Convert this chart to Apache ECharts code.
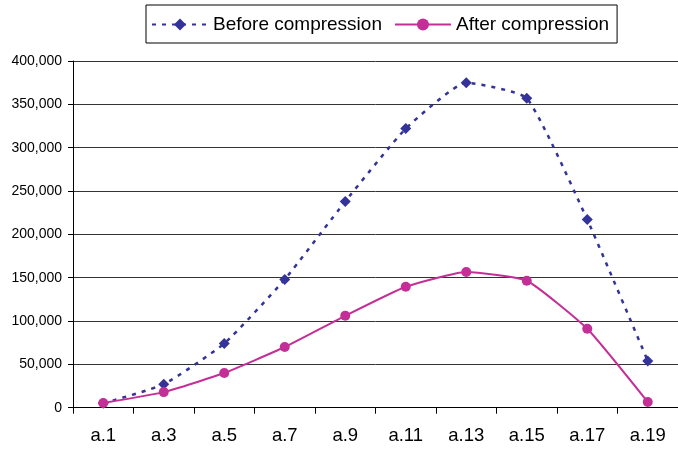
<!DOCTYPE html>
<html>
<head>
<meta charset="utf-8">
<script src="https://cdn.jsdelivr.net/npm/echarts@6/dist/echarts.min.js"></script>
<style>
html,body{margin:0;padding:0;background:#fff;}
#chart{width:678px;height:450px;}
</style>
</head>
<body>
<div id="chart"></div>
<script>
var categories = ['a.1','a.3','a.5','a.7','a.9','a.11','a.13','a.15','a.17','a.19'];
var beforeValues = [5000, 27000, 74000, 148000, 238000, 322000, 375000, 357000, 217000, 54000];
var afterValues = [5500, 18000, 40000, 70000, 106000, 139500, 156500, 146500, 91000, 6500];
var yMin = 0, yMax = 400000, yInterval = 50000;

var chart = echarts.init(document.getElementById('chart'), null, {renderer:'canvas'});
chart.setOption({
  animation: false,
  backgroundColor: '#fff',
  textStyle: {fontFamily: 'Liberation Sans, Arial, sans-serif', color: '#000'},
  legend: {
    left: 146, top: 5,
    padding: [10, 8, 9, 5],
    borderColor: '#000', borderWidth: 1,
    itemWidth: 56, itemHeight: 15, itemGap: 12,
    textStyle: {fontSize: 19, color: '#000', fontFamily: 'Liberation Sans, Arial, sans-serif'},
    data: ['Before compression', 'After compression']
  },
  grid: {left: 73, right: -6, top: 61, bottom: 42.3, containLabel: false},
  xAxis: {
    type: 'category',
    data: categories,
    boundaryGap: true,
    axisLine: {lineStyle: {color: '#000', width: 1}},
    axisTick: {show: true, length: 6, inside: false, lineStyle: {color: '#000'}},
    axisLabel: {fontSize: 18.5, color: '#000', margin: 19, interval: 0}
  },
  yAxis: {
    type: 'value',
    min: yMin, max: yMax, interval: yInterval,
    axisLine: {show: true, lineStyle: {color: '#000', width: 1}},
    axisTick: {show: true, length: 5, lineStyle: {color: '#000'}},
    axisLabel: {fontSize: 14, color: '#000', margin: 11,
      formatter: function(v){ return v.toLocaleString('en-US'); }},
    splitLine: {show: true, lineStyle: {color: '#333', width: 1}}
  },
  series: [
    {
      name: 'Before compression',
      type: 'line',
      data: beforeValues,
      smooth: 0.15,
      symbol: 'diamond',
      symbolSize: 11,
      itemStyle: {color: '#333399'},
      lineStyle: {color: '#333399', width: 2.5, type: [4, 6]},
      z: 2
    },
    {
      name: 'After compression',
      type: 'line',
      data: afterValues,
      smooth: 0.15,
      symbol: 'circle',
      symbolSize: 10,
      itemStyle: {color: '#C42F97'},
      lineStyle: {color: '#C42F97', width: 2, type: 'solid'},
      z: 3
    }
  ]
});
</script>
</body>
</html>
